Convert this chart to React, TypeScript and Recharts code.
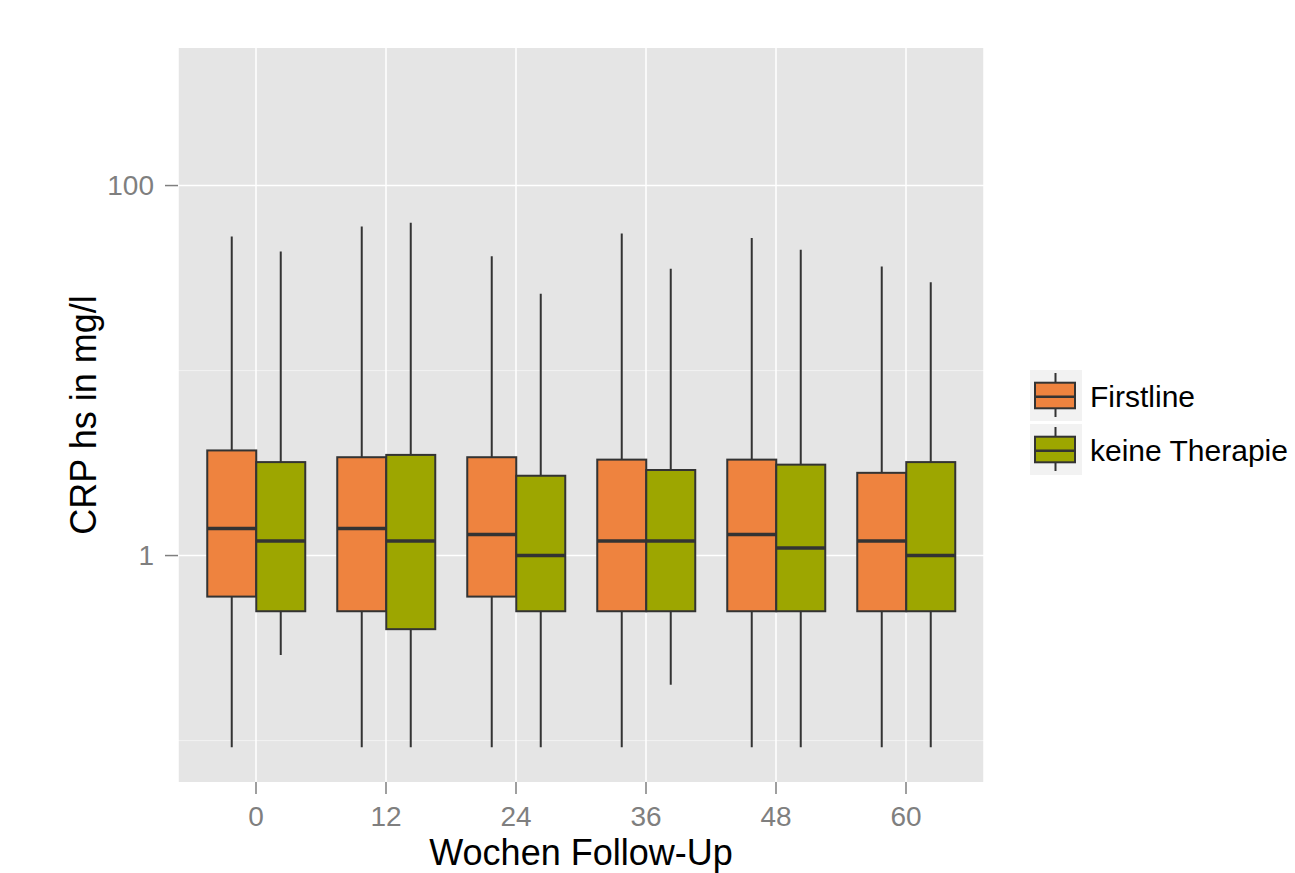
import React from 'react';
import { ComposedChart, Bar, XAxis, YAxis, CartesianGrid, Legend } from 'recharts';

// weeks of follow-up (x categories)
const WEEKS = ['0', '12', '24', '36', '48', '60'];

// Firstline: five-number summaries per week (mg/l)
const FIRST_MIN = [0.092, 0.092, 0.092, 0.092, 0.092, 0.092];
const FIRST_Q1 = [0.6, 0.5, 0.6, 0.5, 0.5, 0.5];
const FIRST_MEDIAN = [1.4, 1.4, 1.3, 1.2, 1.3, 1.2];
const FIRST_Q3 = [3.7, 3.4, 3.4, 3.3, 3.3, 2.8];
const FIRST_MAX = [53, 60, 41.5, 55, 52, 36.5];

// keine Therapie
const KEINE_MIN = [0.29, 0.092, 0.092, 0.2, 0.092, 0.092];
const KEINE_Q1 = [0.5, 0.4, 0.5, 0.5, 0.5, 0.5];
const KEINE_MEDIAN = [1.2, 1.2, 1.0, 1.2, 1.1, 1.0];
const KEINE_Q3 = [3.2, 3.5, 2.7, 2.9, 3.1, 3.2];
const KEINE_MAX = [44, 63, 26, 35.5, 45, 30];

const Y_TICKS = [1, 100];
const Y_MINOR = [0.1, 10];
const Y_DOMAIN = [0.0597, 554];

const SERIES = [
  { key: 'first', name: 'Firstline', color: '#EE833F' },
  { key: 'keine', name: 'keine Therapie', color: '#9DA600' },
];

const rows = WEEKS.map((week, i) => ({
  week,
  first: [FIRST_MIN[i], FIRST_MAX[i]],
  firstStats: { q1: FIRST_Q1[i], median: FIRST_MEDIAN[i], q3: FIRST_Q3[i] },
  keine: [KEINE_MIN[i], KEINE_MAX[i]],
  keineStats: { q1: KEINE_Q1[i], median: KEINE_MEDIAN[i], q3: KEINE_Q3[i] },
}));

const LINE = '#333333';

// the bar itself spans min..max on the log axis; box parts are placed on the same log scale
const boxShape = (key: string, color: string) => (props: any) => {
  const { x, y, width, height, payload } = props;
  if (!payload) return null;
  const [lo, hi] = payload[key];
  const stats = payload[key + 'Stats'];
  const top = Math.min(y, y + height);
  const bottom = Math.max(y, y + height);
  const span = Math.log(hi) - Math.log(lo);
  const py = (v: number) => top + ((bottom - top) * (Math.log(hi) - Math.log(v))) / span;
  const cx = x + width / 2;
  const yq3 = py(stats.q3);
  const yq1 = py(stats.q1);
  const ym = py(stats.median);
  return (
    <g>
      <line x1={cx} x2={cx} y1={top} y2={bottom} stroke={LINE} strokeWidth={2} />
      <rect x={x} y={yq3} width={width} height={yq1 - yq3} fill={color} stroke={LINE} strokeWidth={2} />
      <line x1={x} x2={x + width} y1={ym} y2={ym} stroke={LINE} strokeWidth={3.5} />
    </g>
  );
};

const renderLegend = () => (
  <svg width={265} height={106} style={{ display: 'block' }}>
    {SERIES.map((s, i) => {
      const oy = i * 54;
      return (
        <g key={s.key}>
          <rect x={0} y={oy} width={52} height={51} fill="#F2F2F2" />
          <line x1={25.5} x2={25.5} y1={oy + 3} y2={oy + 47} stroke={LINE} strokeWidth={2} />
          <rect x={5} y={oy + 12.7} width={40} height={25.6} fill={s.color} stroke={LINE} strokeWidth={2} />
          <line x1={5} x2={45} y1={oy + 26.7} y2={oy + 26.7} stroke={LINE} strokeWidth={2.5} />
          <text x={60} y={oy + 36.7} fontSize={30} fill="#000">
            {s.name}
          </text>
        </g>
      );
    })}
  </svg>
);

const renderYLabel = (props: any) => {
  const vb = props.viewBox || {};
  const cy = (vb.y ?? 48) + (vb.height ?? 734) / 2;
  const cx = 95.5;
  return (
    <text x={cx} y={cy} transform={`rotate(-90 ${cx} ${cy})`} textAnchor="middle" fontSize={36} fill="#000">
      CRP hs in mg/l
    </text>
  );
};

export default function App() {
  return (
    <div style={{ position: 'absolute', left: 0, top: 0, fontFamily: '"Liberation Sans", Arial, sans-serif' }}>
      <ComposedChart
        width={1295}
        height={873}
        data={rows}
        margin={{ top: 48, right: 311, bottom: 0, left: 0 }}
        barCategoryGap="12.5%"
        barGap={0}
      >
        <CartesianGrid fill="#E5E5E5" stroke="#F2F2F2" strokeWidth={1} vertical={false} horizontalValues={Y_MINOR} />
        <CartesianGrid stroke="#FFFFFF" strokeWidth={1.5} horizontalValues={Y_TICKS} />
        <XAxis
          dataKey="week"
          type="category"
          height={91}
          padding={{ left: 13, right: 13 }}
          axisLine={false}
          tickSize={12}
          tickMargin={12}
          tickLine={{ stroke: '#7F7F7F', strokeWidth: 1.5 }}
          tick={{ fontSize: 28, fill: '#7F7F7F' }}
          label={{ value: 'Wochen Follow-Up', position: 'insideBottom', offset: 8, fontSize: 36, fill: '#000' }}
        />
        <YAxis
          type="number"
          scale="log"
          domain={Y_DOMAIN}
          allowDataOverflow
          ticks={Y_TICKS}
          width={178}
          axisLine={false}
          tickSize={13}
          tickMargin={11}
          tickLine={{ stroke: '#7F7F7F', strokeWidth: 1.5 }}
          tick={{ fontSize: 28, fill: '#7F7F7F' }}
          label={{ content: renderYLabel }}
        />
        <Legend
          layout="horizontal"
          align="center"
          verticalAlign="middle"
          wrapperStyle={{ left: 1030, top: 370, width: 265 }}
          content={renderLegend}
        />
        {SERIES.map((s) => (
          <Bar
            key={s.key}
            dataKey={s.key}
            name={s.name}
            fill={s.color}
            isAnimationActive={false}
            shape={boxShape(s.key, s.color)}
          />
        ))}
      </ComposedChart>
    </div>
  );
}
